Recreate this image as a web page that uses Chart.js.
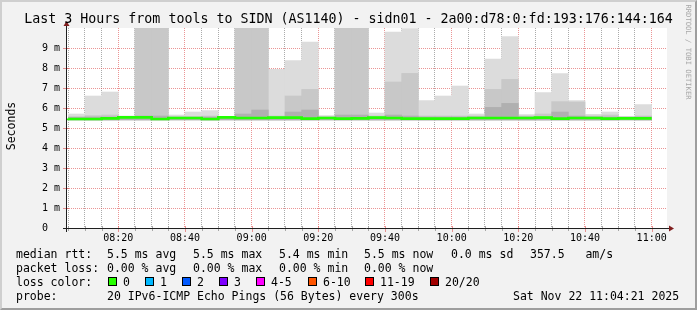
<!DOCTYPE html>
<html>
<head>
<meta charset="utf-8">
<title>sidn01 smokeping</title>
<script src="https://cdn.jsdelivr.net/npm/chart.js@4.4.1/dist/chart.umd.min.js"></script>
<style>
  html, body { margin: 0; padding: 0; background: #f2f2f2; }
  #graph { position: relative; width: 697px; height: 310px; background: #f2f2f2; overflow: hidden;
           font-family: 'DejaVu Sans Mono', monospace; color: #000; }
  #graph canvas { position: absolute; left: 0; top: 0; }
  .edge { position: absolute; left: 0; top: 0; width: 697px; height: 310px; box-sizing: border-box;
          border: 2px solid; border-color: #cfcfcf #9e9e9e #9e9e9e #cfcfcf; }
  .title { position: absolute; left: 0; top: 11px; width: 697px; text-align: center;
           font-size: 13.3px; line-height: 16px; white-space: pre; }
  .txt { position: absolute; font-size: 11.5px; line-height: 14px; white-space: pre; }
  .box { position: absolute; width: 7px; height: 7px; border: 1px solid #000; }
  .rot { position: absolute; white-space: pre; }
</style>
</head>
<body>
<div id="graph">
  <canvas id="rttChart" width="697" height="310"></canvas>
  <div class="edge"></div>
  <div class="title">Last 3 Hours from tools to SIDN (AS1140) - sidn01 - 2a00:d78:0:fd:193:176:144:164</div>
  <div class="rot" style="left:11px; top:126px; font-size:11.5px; transform: translate(-50%,-50%) rotate(-90deg);">Seconds</div>
  <div class="rot" style="left:688px; top:52px; font-size:7.2px; color:#a8a8a8; transform: translate(-50%,-50%) rotate(90deg);">RRDTOOL / TOBI OETIKER</div>

  <div class="txt" style="left:16px; top:247px;">median rtt:</div>
  <div class="txt" style="left:107px; top:247px;">5.5 ms avg</div>
  <div class="txt" style="left:193px; top:247px;">5.5 ms max</div>
  <div class="txt" style="left:279px; top:247px;">5.4 ms min</div>
  <div class="txt" style="left:364px; top:247px;">5.5 ms now</div>
  <div class="txt" style="left:451px; top:247px;">0.0 ms sd</div>
  <div class="txt" style="left:530px; top:247px;">357.5   am/s</div>

  <div class="txt" style="left:16px; top:261px;">packet loss:</div>
  <div class="txt" style="left:107px; top:261px;">0.00 % avg</div>
  <div class="txt" style="left:193px; top:261px;">0.00 % max</div>
  <div class="txt" style="left:279px; top:261px;">0.00 % min</div>
  <div class="txt" style="left:364px; top:261px;">0.00 % now</div>

  <div class="txt" style="left:16px; top:275px;">loss color:</div>
  <div id="lossRow"></div>

  <div class="txt" style="left:16px; top:289px;">probe:</div>
  <div class="txt" style="left:107px; top:289px;">20 IPv6-ICMP Echo Pings (56 Bytes) every 300s</div>
  <div class="txt" style="left:513px; top:289px;">Sat Nov 22 11:04:21 2025</div>
</div>
<script>
// 5 minute slots (start time), values in ms
const slotStarts = ['08:05','08:10','08:15','08:20','08:25','08:30','08:35','08:40','08:45','08:50',
                    '08:55','09:00','09:05','09:10','09:15','09:20','09:25','09:30','09:35','09:40',
                    '09:45','09:50','09:55','10:00','10:05','10:10','10:15','10:20','10:25','10:30',
                    '10:35','10:40','10:45','10:50','10:55'];
const medianRtt = [5.48,5.45,5.45,5.48,5.53,5.53,5.45,5.50,5.50,5.45,
                   5.53,5.50,5.50,5.52,5.52,5.47,5.50,5.47,5.48,5.52,
                   5.50,5.47,5.47,5.47,5.47,5.50,5.50,5.50,5.50,5.52,
                   5.47,5.50,5.50,5.47,5.48];
const smokeMin  = [5.40,5.40,5.40,5.40,5.40,5.40,5.40,5.40,5.40,5.40,
                   5.40,5.40,5.40,5.40,5.40,5.40,5.40,5.40,5.40,5.40,
                   5.40,5.40,5.40,5.40,5.40,5.40,5.40,5.40,5.40,5.40,
                   5.40,5.40,5.40,5.40,5.40];
const smokeDark = [5.55,5.55,5.55,5.55,5.60,5.60,5.55,5.55,5.55,5.55,
                   5.70,5.90,5.55,5.80,5.90,5.55,5.65,5.65,5.55,5.65,
                   5.60,5.55,5.55,5.55,5.55,6.03,6.23,5.55,5.55,5.80,
                   5.60,5.55,5.55,5.55,5.55];
const smokeMid  = [null,5.62,5.65,null,10.5,10.5,null,null,5.60,null,
                   10.5,10.5,5.60,6.60,6.93,null,10.5,10.5,5.60,7.30,
                   7.73,5.60,5.60,5.60,5.60,6.93,7.43,5.60,5.70,6.32,
                   6.30,5.60,5.65,null,5.60];
const smokeMax  = [5.70,6.60,6.80,5.60,10.5,10.5,5.65,5.80,5.87,5.58,
                   10.5,10.5,7.93,8.37,9.30,5.62,10.5,10.5,5.75,9.80,
                   9.97,6.37,6.60,7.10,5.70,8.45,9.57,5.67,6.77,7.72,
                   6.37,5.68,5.80,5.57,6.17];
const xTickLabels = ['08:20','08:40','09:00','09:20','09:40','10:00','10:20','10:40','11:00'];
const yTickLabels = ['0  ','1 m','2 m','3 m','4 m','5 m','6 m','7 m','8 m','9 m'];
const lossLabels = ['0','1','2','3','4-5','6-10','11-19','20/20'];
const lossColors = ['#26ff00','#00b8ff','#0059ff','#7e00ff','#ff00ff','#ff5500','#ff0000','#a10000'];

const viewStart = '08:04:36';
const viewEnd = '11:04:36';
const stepMin = 5;

const toMin = t => { const p = t.split(':').map(Number); return p[0] * 60 + p[1] + (p[2] || 0) / 60; };
const pad2 = n => String(n).padStart(2, '0');
const fmt = m => pad2(Math.floor(m / 60)) + ':' + pad2(Math.round(m % 60));

// legend boxes
const lossX = [108, 145, 182, 219, 256, 308, 365, 430];
const row = document.getElementById('lossRow');
lossLabels.forEach((lab, i) => {
  const b = document.createElement('div');
  b.className = 'box';
  b.style.left = lossX[i] + 'px';
  b.style.top = '277px';
  b.style.background = lossColors[i];
  row.appendChild(b);
  const t = document.createElement('div');
  t.className = 'txt';
  t.style.left = (lossX[i] + 15) + 'px';
  t.style.top = '275px';
  t.textContent = lab;
  row.appendChild(t);
});

const band = (tops) => slotStarts
  .map((s, i) => tops[i] == null ? null : { x: toMin(s) + stepMin / 2, y: [smokeMin[i], tops[i]] })
  .filter(Boolean);

const medianPoints = slotStarts.map((s, i) => ({ x: toMin(s), y: medianRtt[i] }));
medianPoints.push({ x: toMin(slotStarts[slotStarts.length - 1]) + stepMin, y: medianRtt[medianRtt.length - 1] });

const isMajor = v => xTickLabels.includes(fmt(v));
const minorGrid = 'rgba(143,143,143,0.75)';
const majorGrid = 'rgba(222,79,79,0.6)';

const barOpts = { grouped: false, barPercentage: 1, categoryPercentage: 1, borderWidth: 0 };

const plotBg = {
  id: 'plotBg',
  beforeDraw(chart) {
    const { ctx, chartArea: a } = chart;
    ctx.save();
    ctx.fillStyle = '#ffffff';
    ctx.fillRect(a.left, a.top, a.right - a.left, a.bottom - a.top);
    ctx.restore();
  }
};

const axisDecor = {
  id: 'axisDecor',
  afterDraw(chart) {
    const { ctx, chartArea: a } = chart;
    const xs = chart.scales.x, ys = chart.scales.y;
    ctx.save();
    // little tick marks across the axes
    xs.ticks.forEach(t => {
      const px = Math.round(xs.getPixelForValue(t.value)) + 0.5;
      ctx.strokeStyle = isMajor(t.value) ? majorGrid : minorGrid;
      ctx.beginPath();
      ctx.moveTo(px, a.bottom - 2);
      ctx.lineTo(px, a.bottom + (isMajor(t.value) ? 4 : 3));
      ctx.stroke();
    });
    ys.ticks.forEach(t => {
      const py = Math.round(ys.getPixelForValue(t.value)) + 0.5;
      ctx.strokeStyle = Number.isInteger(t.value) ? majorGrid : minorGrid;
      ctx.beginPath();
      ctx.moveTo(a.left - (Number.isInteger(t.value) ? 4 : 3), py);
      ctx.lineTo(a.left + 2, py);
      ctx.stroke();
    });
    ctx.strokeStyle = '#1f1f1f';
    ctx.lineWidth = 1;
    ctx.beginPath();
    ctx.moveTo(a.left - 4, a.bottom + 0.5);
    ctx.lineTo(a.right + 3, a.bottom + 0.5);
    ctx.moveTo(a.left - 0.5, a.bottom + 4);
    ctx.lineTo(a.left - 0.5, a.top - 2);
    ctx.stroke();
    ctx.fillStyle = '#801f1f';
    ctx.beginPath();
    ctx.moveTo(a.right + 7, a.bottom + 0.5);
    ctx.lineTo(a.right + 2, a.bottom - 2.5);
    ctx.lineTo(a.right + 2, a.bottom + 3.5);
    ctx.closePath();
    ctx.fill();
    ctx.beginPath();
    ctx.moveTo(a.left - 0.5, a.top - 7);
    ctx.lineTo(a.left - 3.5, a.top - 2);
    ctx.lineTo(a.left + 2.5, a.top - 2);
    ctx.closePath();
    ctx.fill();
    ctx.restore();
  }
};

Chart.defaults.font.family = "'DejaVu Sans Mono', monospace";
Chart.defaults.color = '#000';

new Chart(document.getElementById('rttChart').getContext('2d'), {
  type: 'bar',
  data: {
    datasets: [
      {
        type: 'line',
        label: 'median rtt',
        data: medianPoints,
        stepped: 'after',
        borderColor: '#22ff00',
        borderWidth: 2.6,
        pointRadius: 0,
        fill: false
      },
      { label: 'smoke dark', data: band(smokeDark), backgroundColor: '#b0b0b0', ...barOpts },
      { label: 'smoke mid', data: band(smokeMid), backgroundColor: '#c8c8c8', ...barOpts },
      { label: 'smoke max', data: band(smokeMax), backgroundColor: '#dcdcdc', ...barOpts }
    ]
  },
  options: {
    responsive: false,
    devicePixelRatio: 1,
    animation: false,
    events: [],
    layout: { padding: { left: 0, top: 28, right: 30, bottom: 0 } },
    plugins: { legend: { display: false }, tooltip: { enabled: false }, title: { display: false } },
    scales: {
      x: {
        type: 'linear',
        min: toMin(viewStart),
        max: toMin(viewEnd),
        offset: false,
        z: 1,
        afterFit: (scale) => { scale.height = 82; },
        afterBuildTicks: (scale) => {
          const t = [];
          for (let m = Math.ceil(scale.min / stepMin) * stepMin; m <= scale.max; m += stepMin) t.push({ value: m });
          scale.ticks = t;
        },
        grid: {
          offset: false,
          drawTicks: false,
          color: (c) => (c.tick && isMajor(c.tick.value)) ? majorGrid : minorGrid
        },
        border: { display: false, dash: [1, 1] },
        ticks: {
          autoSkip: false,
          maxRotation: 0,
          padding: 4,
          font: { size: 10 },
          callback: (v) => isMajor(v) ? fmt(v) : ''
        }
      },
      y: {
        min: 0,
        max: 10,
        z: 1,
        afterFit: (scale) => { scale.width = 67; },
        afterBuildTicks: (scale) => {
          const t = [];
          for (let v = 0; v < 10; v += 0.5) t.push({ value: v });
          scale.ticks = t;
        },
        grid: {
          drawTicks: false,
          color: (c) => (c.tick && Number.isInteger(c.tick.value)) ? majorGrid : minorGrid
        },
        border: { display: false, dash: [1, 1] },
        ticks: {
          padding: 7,
          font: { size: 10 },
          callback: (v) => Number.isInteger(v) ? yTickLabels[v] : ''
        }
      }
    }
  },
  plugins: [plotBg, axisDecor]
});
</script>
</body>
</html>
